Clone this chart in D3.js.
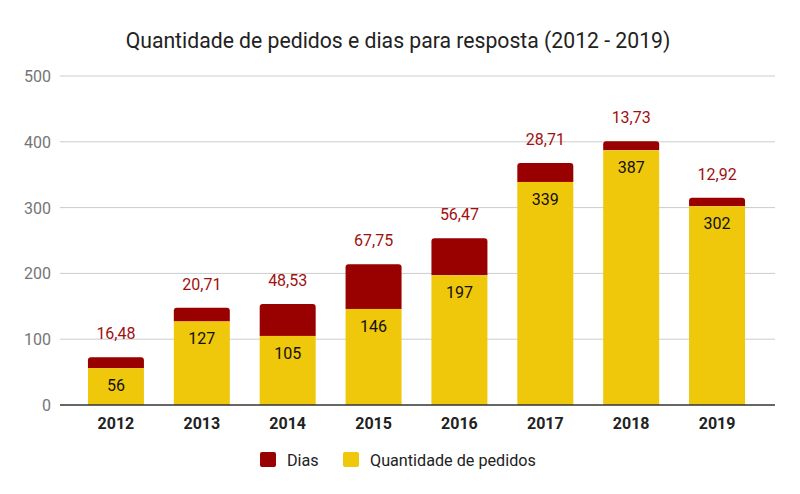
<!DOCTYPE html>
<html><head><meta charset="utf-8">
<script src="https://cdn.jsdelivr.net/npm/d3@7"></script>
<style>body{margin:0;background:#fff}svg{display:block;font-family:Roboto,sans-serif}</style>
</head><body><svg id="c" width="800" height="494"></svg>
<script>
const years = ["2012","2013","2014","2015","2016","2017","2018","2019"];
const pedidos = [56,127,105,146,197,339,387,302];
const dias = [16.48,20.71,48.53,67.75,56.47,28.71,13.73,12.92];
const yTicks = [0,100,200,300,400,500];
const seriesNames = ["Dias","Quantidade de pedidos"];
const colors = {dias:"#990000", pedidos:"#efc70b"};

const svg = d3.select("#c");
const x = d3.scaleBand().domain(years).range([73,760]).paddingInner(0.348).paddingOuter(0.174);
const y = d3.scaleLinear().domain([0,500]).range([405,76]);

svg.append("text").attr("x",398).attr("y",48).attr("text-anchor","middle")
  .attr("font-size",21.2).attr("fill","#222").text("Quantidade de pedidos e dias para resposta (2012 - 2019)");

// grid
svg.append("g").selectAll("line").data(yTicks.filter(d=>d>0)).join("line")
  .attr("x1",60).attr("x2",775).attr("y1",d=>y(d)).attr("y2",d=>y(d))
  .attr("stroke","#cccccc").attr("stroke-width",1);
svg.append("g").selectAll("text").data(yTicks).join("text")
  .attr("x",51).attr("y",d=>y(d)+6).attr("text-anchor","end")
  .attr("font-size",16).attr("fill","#757575").text(d=>d);

const data = years.map((yr,i)=>({yr,p:pedidos[i],d:dias[i]}));
const fmt = v => v.toFixed(2).replace(".",",");
const r = 3;
svg.append("g").selectAll("path").data(data).join("path")
  .attr("fill",colors.dias)
  .attr("d",d=>{
    const x0=x(d.yr), w=x.bandwidth(), yt=y(d.p+d.d), yb=y(d.p);
    return `M${x0},${yb}V${yt+r}Q${x0},${yt} ${x0+r},${yt}H${x0+w-r}Q${x0+w},${yt} ${x0+w},${yt+r}V${yb}Z`;
  });
svg.append("g").selectAll("rect").data(data).join("rect")
  .attr("x",d=>x(d.yr)).attr("width",x.bandwidth())
  .attr("y",d=>y(d.p)).attr("height",d=>y(0)-y(d.p)).attr("fill",colors.pedidos);

svg.append("line").attr("x1",60).attr("x2",775).attr("y1",y(0)).attr("y2",y(0)).attr("stroke","#333").attr("stroke-width",1.3);

svg.append("g").selectAll("text").data(data).join("text")
  .attr("x",d=>x(d.yr)+x.bandwidth()/2).attr("y",d=>y(d.p+d.d)-18)
  .attr("text-anchor","middle").attr("font-size",16).attr("fill","#a01010").text(d=>fmt(d.d));
svg.append("g").selectAll("text").data(data).join("text")
  .attr("x",d=>x(d.yr)+x.bandwidth()/2).attr("y",d=>y(d.p)+23)
  .attr("text-anchor","middle").attr("font-size",16).attr("fill","#111").text(d=>d.p);

svg.append("g").selectAll("text").data(years).join("text")
  .attr("x",d=>x(d)+x.bandwidth()/2).attr("y",429).attr("text-anchor","middle")
  .attr("font-size",16).attr("font-weight","bold").attr("fill","#222").text(d=>d);

const leg = [{n:seriesNames[0],c:colors.dias,x:260},{n:seriesNames[1],c:colors.pedidos,x:343}];
const lg = svg.append("g").selectAll("g").data(leg).join("g").attr("transform",d=>`translate(${d.x},452)`);
lg.append("rect").attr("width",16).attr("height",15).attr("rx",2).attr("fill",d=>d.c);
lg.append("text").attr("x",27).attr("y",13.5).attr("font-size",16.2).attr("fill","#222").text(d=>d.n);
</script></body></html>
